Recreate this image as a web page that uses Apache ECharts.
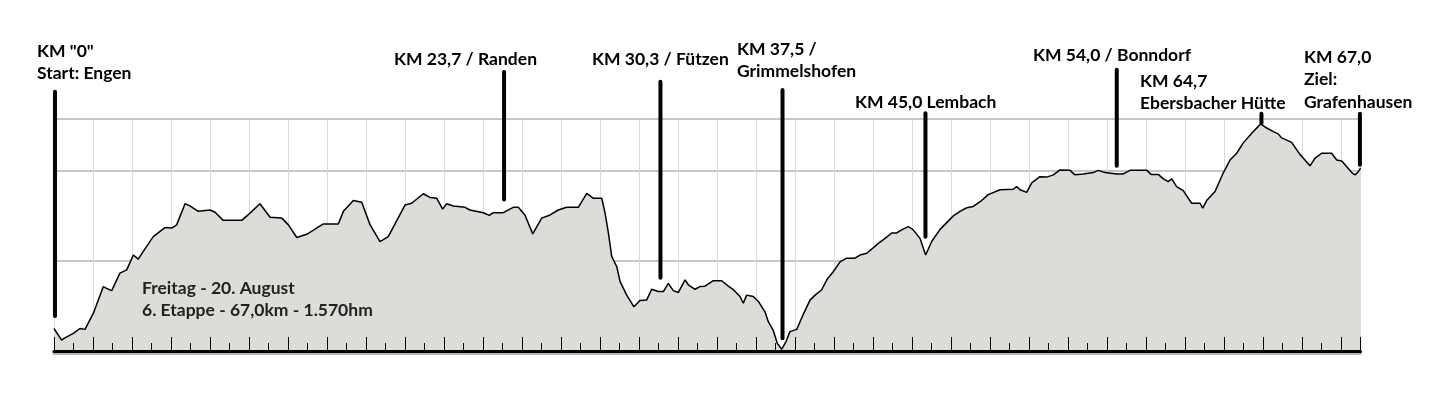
<!DOCTYPE html>
<html>
<head>
<meta charset="utf-8">
<script src="https://cdn.jsdelivr.net/npm/echarts@6/dist/echarts.min.js"></script>
<style>
html,body{margin:0;padding:0;background:#fff;}
#chart{width:1450px;height:420px;}
</style>
</head>
<body>
<div id="chart"></div>
<script>
// ---- data ----
const distanceKm = [0,0.39,0.56,0.99,1.33,1.59,2.02,2.53,2.70,2.96,3.38,3.73,4.07,4.32,4.58,5.09,5.69,6.04,6.29,6.72,6.97,7.40,8.00,8.26,8.68,9.63,10.05,10.56,11.08,11.68,12.02,12.45,12.96,13.81,14.58,14.84,15.35,15.78,16.21,16.72,17.14,18.00,18.34,18.94,19.28,19.63,19.93,20.14,20.48,21.08,21.33,22.02,22.32,22.53,23.04,23.55,23.81,24.15,24.55,25.01,25.44,25.86,26.29,26.89,27.32,27.66,28.09,28.26,28.43,28.60,28.86,29.03,29.37,29.74,30.05,30.39,30.65,30.99,31.25,31.50,31.76,32.02,32.36,32.53,32.87,33.13,33.38,33.81,34.24,34.58,34.84,35.18,35.35,35.52,35.86,36.12,36.46,36.63,36.89,37.09,37.32,37.54,37.74,38.09,38.43,38.77,39.03,39.37,39.63,39.96,40.31,40.65,41.08,41.33,41.68,41.93,42.27,42.62,42.96,43.22,43.47,43.81,44.04,44.41,44.70,45.01,45.44,45.78,46.12,46.46,46.81,47.14,47.57,47.91,48.51,49.19,49.37,49.54,49.88,50.14,50.56,50.91,51.25,51.59,52.10,52.36,52.78,53.30,53.55,53.90,54.50,54.84,55.18,56.04,56.26,56.63,56.89,57.14,57.32,57.57,57.91,58.34,58.77,58.91,59.11,59.54,59.96,60.31,60.65,60.99,61.50,61.88,62.19,62.53,62.78,62.96,63.47,63.90,64.41,64.67,65.01,65.52,65.78,66.04,66.55,66.72,66.89,67.00];
const elevationM = [450,424,429,439,450,448,484,543,539,534,573,580,613,604,621,654,674,673,680,727,722,710,713,708,690,690,706,727,697,695,680,652,659,682,682,710,734,730,680,643,654,724,728,749,741,739,715,727,722,719,713,707,701,707,707,719,719,702,660,695,702,713,719,719,750,739,739,706,662,610,587,554,524,498,512,513,537,532,532,550,534,530,558,547,537,543,544,556,556,544,536,521,506,524,521,510,487,465,445,417,404,421,443,448,482,513,524,536,558,576,598,606,606,613,617,626,639,650,662,662,669,676,670,650,613,643,670,685,700,710,718,721,734,747,758,759,765,758,752,773,787,786,791,802,801,791,793,796,801,796,793,793,801,801,792,792,782,776,782,765,756,728,728,717,734,754,795,824,839,862,887,904,895,887,882,873,863,836,811,828,839,839,824,822,796,791,798,806];

// marker positions along the drawn axis, and the span of each marker post
const markerKm     = [0.05, 23.08, 31.10, 37.36, 44.69, 54.50, 61.92, 66.97];
const markerBottom = [473, 732, 558, 424, 649, 807, 902, 809];
const markerTop    = [980, 1024, 1002, 984, 932, 1029, 931, 931];
const markerLabels = [
  ['KM "0"', 'Start: Engen'],
  ['KM 23,7 / Randen'],
  ['KM 30,3 / Fützen'],
  ['KM 37,5 /', 'Grimmelshofen'],
  ['KM 45,0 Lembach'],
  ['KM 54,0 / Bonndorf'],
  ['KM 64,7', 'Ebersbacher Hütte'],
  ['KM 67,0', 'Ziel:', 'Grafenhausen']
];
const infoLines = ['Freitag - 20. August', '6. Etappe - 67,0km - 1.570hm'];

const xMin = 0, xMax = 67, xInterval = 2;
const yMin = 400, yMax = 915, yInterval = 200;

// ---- layout (pixels) ----
const labelPos = [ [37, 57], [394, 65], [592, 65], [737, 55], [855, 108], [1033, 61], [1140, 87], [1304, 63] ];
const infoPos = [142, 294];
const lineGap = 22.7;
const FONT = 'bold 17.5px Lato';

const chart = echarts.init(document.getElementById('chart'), null, {renderer: 'canvas'});

const graphics = [];
markerLabels.forEach((lines, i) => {
  lines.forEach((t, j) => {
    graphics.push({type: 'text', x: labelPos[i][0], y: labelPos[i][1] + j * lineGap - 6, z: 100,
      style: {text: t, fill: '#000', font: FONT, align: 'left', verticalAlign: 'middle'}});
  });
});
infoLines.forEach((t, j) => {
  graphics.push({type: 'text', x: infoPos[0], y: infoPos[1] + j * lineGap - 6, z: 100,
    style: {text: t, fill: '#222', font: FONT, align: 'left', verticalAlign: 'middle'}});
});

const xBase = {type: 'value', min: xMin, max: xMax, interval: xInterval, axisLabel: {show: false}};

chart.setOption({
  animation: false,
  backgroundColor: '#fff',
  grid: {left: 54, right: 89.5, top: 119, bottom: 69, containLabel: false},
  xAxis: [
    Object.assign({}, xBase, {
      z: 0,
      axisLine: {show: false}, axisTick: {show: false},
      splitLine: {show: true, lineStyle: {color: '#dadada', width: 1}}
    }),
    Object.assign({}, xBase, {
      z: 5, position: 'bottom',
      axisLine: {show: true, onZero: false, lineStyle: {color: '#000', width: 3, shadowColor: '#b4b4b4', shadowOffsetY: 2, shadowBlur: 0}},
      axisTick: {show: true, inside: true, length: 14, lineStyle: {color: '#000', width: 1}},
      minorTick: {show: true, splitNumber: 2, length: 8, lineStyle: {color: '#000', width: 1}},
      splitLine: {show: false}
    })
  ],
  yAxis: {
    type: 'value', min: yMin, max: yMax, interval: yInterval,
    axisLine: {show: false}, axisTick: {show: false}, axisLabel: {show: false},
    splitLine: {show: true, lineStyle: {color: '#c6c6c6', width: 2}}
  },
  series: [
    {
      type: 'line',
      xAxisIndex: 0,
      data: distanceKm.map((k, i) => [k, elevationM[i]]),
      symbol: 'none',
      lineStyle: {color: '#000', width: 1.5},
      areaStyle: {color: '#dddcd8', opacity: 1, origin: 'start'},
      z: 2
    },
    {
      type: 'custom',
      xAxisIndex: 0,
      clip: false,
      z: 10,
      data: markerKm.map((k, i) => [k, markerBottom[i], markerTop[i]]),
      encode: {x: 0, y: [1, 2]},
      renderItem: (params, api) => {
        const p1 = api.coord([api.value(0), api.value(1)]);
        const p2 = api.coord([api.value(0), api.value(2)]);
        return {type: 'line', shape: {x1: p1[0], y1: p1[1] - 2, x2: p2[0], y2: p2[1] + 2},
          style: {stroke: '#000', lineWidth: 4, lineCap: 'round'}};
      }
    }
  ],
  graphic: graphics
});
</script>
</body>
</html>
